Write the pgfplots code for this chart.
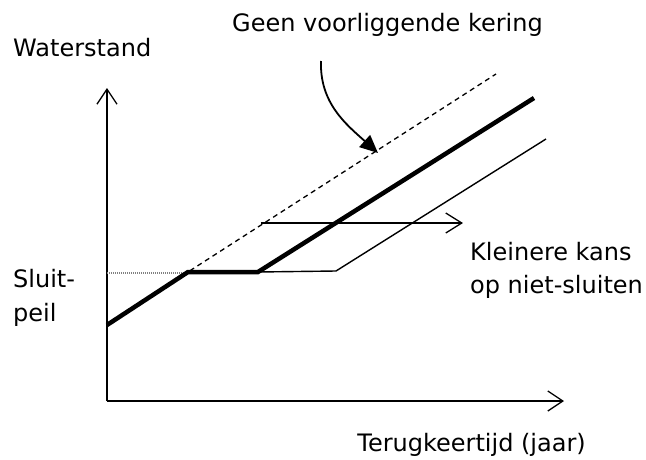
\documentclass[border=0pt]{standalone}
\usepackage{pgfplots}
\pgfplotsset{compat=1.18}
\usetikzlibrary{arrows.meta}
\usepackage{fontspec}
\setmainfont{DejaVu Sans}
\newcommand\lbl{\fontsize{24}{28}\selectfont}
\tikzset{lab/.style={inner sep=0pt, anchor=base west, font=\lbl}}
\begin{document}
\begin{tikzpicture}
\begin{axis}[
  scale only axis, width=457pt, height=313pt,
  xmin=107, xmax=564, ymin=58, ymax=371,
  axis lines=left, xtick=\empty, ytick=\empty,
  axis line style={line width=1.3pt, -{Straight Barb[length=15pt,width=20pt,line width=1.3pt]}},
  clip=false,
]
% no-barrier reference line (dashed)
\addplot[line width=1.3pt, dash pattern=on 5pt off 4pt] coordinates {(107,134) (188,187) (496,385)};
% dotted closing level
\addplot[line width=1.1pt, gray, dash pattern=on 1pt off 1pt] coordinates {(107,186) (188,186)};
% thin line (smaller failure probability)
\addplot[line width=1.4pt] coordinates {(258,187) (336,188) (546,320)};
% thick line
\addplot[line width=4.5pt, line join=miter] coordinates {(107,134) (188,187) (258,187) (534,361)};
% horizontal arrow
\addplot[line width=1.3pt, -{Straight Barb[length=16pt,width=20pt,line width=1.3pt]}] coordinates {(261,236) (463,236)};
% curved annotation arrow
\draw[line width=1.8pt, -{Triangle[length=18pt,width=16pt]}] (axis cs:321,398) to[out=-92,in=138] (axis cs:378,306);
% labels
\node[lab] at (axis cs:232,428) {Geen voorliggende kering};
\node[lab] at (axis cs:13,403) {Waterstand};
\node[lab] at (axis cs:13,172) {Sluit-};
\node[lab] at (axis cs:13,138) {peil};
\node[lab] at (axis cs:470,199) {Kleinere kans};
\node[lab] at (axis cs:470,166) {op niet-sluiten};
\node[lab, anchor=base east] at (axis cs:586,8) {Terugkeertijd (jaar)};
\path (axis cs:0,0) rectangle (axis cs:646,459);
\end{axis}
\end{tikzpicture}
\end{document}
